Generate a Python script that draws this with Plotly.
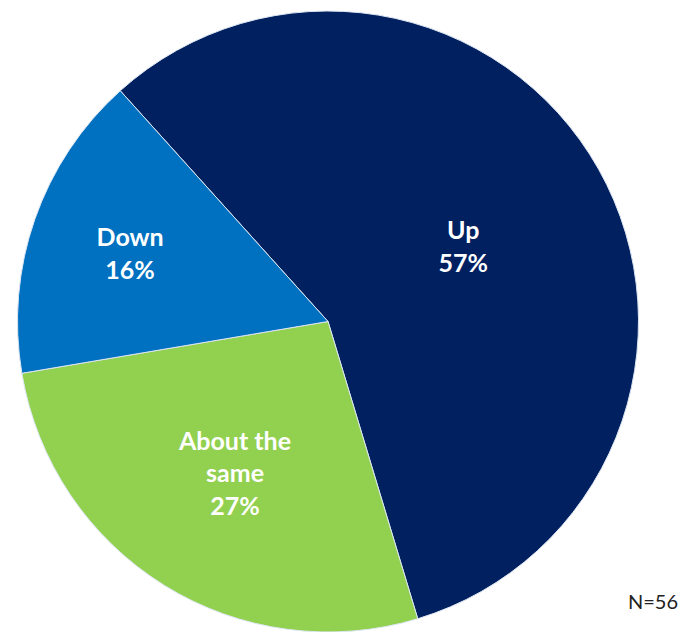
import plotly.graph_objects as go

labels = ["Up", "About the same", "Down"]
display_labels = ["Up", "About the<br>same", "Down"]
values = [57, 27, 16]
colors = ["#002060", "#92D050", "#0070C0"]
note = "N=56"

fig = go.Figure(go.Pie(
    labels=labels,
    values=values,
    customdata=display_labels,
    texttemplate="%{customdata}<br>%{value}%",
    textinfo="text",
    textposition="inside",
    insidetextorientation="horizontal",
    sort=False,
    direction="clockwise",
    rotation=-42,
    marker=dict(colors=colors, line=dict(color="#DDE6F2", width=1)),
    textfont=dict(family="Lato, DejaVu Sans, sans-serif", size=25, color="white", weight="bold"),
    domain=dict(x=[17/684, 639/684], y=[0, 1 - 11/632]),
    showlegend=False,
    hoverinfo="label+percent",
))

fig.add_annotation(
    text=note, x=680/684, y=1 - 601/632, xref="paper", yref="paper",
    xanchor="right", yanchor="middle", showarrow=False,
    font=dict(family="Lato, DejaVu Sans, sans-serif", size=20, color="#222222"),
)

fig.update_layout(
    width=684, height=632,
    margin=dict(l=0, r=0, t=0, b=0),
    paper_bgcolor="white",
    plot_bgcolor="white",
    uniformtext=dict(minsize=10, mode="show"),
)

fig.write_html("out.html")
